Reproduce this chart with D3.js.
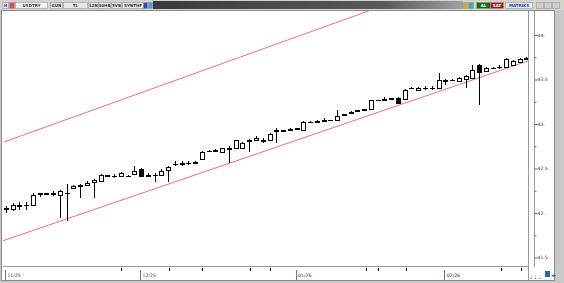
<!DOCTYPE html>
<html>
<head>
<meta charset="utf-8">
<script src="https://cdn.jsdelivr.net/npm/d3@7"></script>
<style>
  body { margin: 0; background: #c8c8c8; }
  svg { display: block; font-family: "DejaVu Sans", sans-serif; }
</style>
</head>
<body>
<svg id="chart"></svg>
<script>
// candles (USDTRY daily)
const opens  = [42.055,42.047,42.08,42.09,42.09,42.215,42.225,42.215,42.205,42.225,42.284,42.30,42.32,42.345,42.363,42.425,42.415,42.42,42.42,42.44,
                42.50,42.42,42.425,42.43,42.48,42.55,42.555,42.56,42.565,42.61,42.70,42.70,42.69,42.72,42.735,42.735,42.81,42.82,42.81,42.825,
                42.925,42.925,42.935,42.945,42.93,43.02,43.025,43.035,43.04,43.04,43.11,43.12,43.15,43.16,43.165,43.265,43.275,43.285,43.29,43.28,
                43.41,43.38,43.40,43.405,43.40,43.495,43.49,43.48,43.51,43.515,43.66,43.595,43.625,43.635,43.64,43.66,43.695,43.735]
const closes = [42.045,42.092,42.09,42.09,42.205,42.22,42.215,42.22,42.25,42.23,42.307,42.315,42.34,42.37,42.43,42.415,42.42,42.45,42.42,42.475,
                42.42,42.425,42.43,42.475,42.52,42.555,42.56,42.56,42.57,42.69,42.70,42.705,42.725,42.725,42.815,42.79,42.815,42.84,42.815,42.89,
                42.93,42.93,42.94,42.95,43.02,43.02,43.03,43.04,43.045,43.095,43.10,43.14,43.155,43.165,43.265,43.27,43.28,43.29,43.235,43.38,
                43.40,43.41,43.405,43.41,43.49,43.485,43.495,43.515,43.535,43.605,43.58,43.63,43.63,43.64,43.73,43.705,43.73,43.74]
const highs  = [42.08,42.11,42.12,42.12,42.22,42.225,42.23,42.25,42.26,42.33,42.32,42.33,42.36,42.385,42.44,42.43,42.44,42.46,42.43,42.53,
                42.51,42.45,42.45,42.49,42.53,42.58,42.58,42.585,42.58,42.70,42.71,42.715,42.735,42.75,42.825,42.80,42.83,42.86,42.84,42.90,
                42.96,42.935,42.96,42.955,43.03,43.03,43.05,43.065,43.05,43.155,43.115,43.15,43.16,43.17,43.275,43.275,43.30,43.295,43.30,43.39,
                43.415,43.42,43.43,43.43,43.57,43.50,43.50,43.525,43.545,43.66,43.67,43.64,43.64,43.66,43.74,43.715,43.74,43.75]
const lows   = [42.00,42.02,42.03,42.03,42.08,42.18,42.21,42.19,41.945,41.91,42.27,42.17,42.30,42.17,42.35,42.41,42.39,42.41,42.41,42.43,
                42.41,42.40,42.35,42.42,42.35,42.53,42.53,42.535,42.56,42.60,42.69,42.695,42.68,42.565,42.73,42.725,42.68,42.81,42.79,42.815,
                42.79,42.92,42.92,42.94,42.92,43.01,43.01,43.02,43.035,43.035,43.095,43.115,43.145,43.155,43.155,43.26,43.26,43.28,43.23,43.27,
                43.395,43.375,43.385,43.385,43.395,43.435,43.485,43.475,43.41,43.51,43.21,43.585,43.62,43.62,43.635,43.65,43.69,43.73]

// trend channel, [candle index, price] end points
const upperLine = [[-0.2, 42.80], [54, 44.28]]
const lowerLine = [[-0.4, 41.689], [77.3, 43.71]]

const priceTicks = [44, 43.5, 43, 42.5, 42, 41.5]
const priceLabels = ["44.", "43.5", "43.", "42.5", "42.", "41.5"]
const minorTicks = [43.75, 43.25, 42.75, 42.25, 41.75]

const monthStart = [0, 20, 43, 65]
const monthLabels = ["11/25", "12/25", "01/26", "02/26"]
const markIdx = [17, 24.2, 29, 36.1, 39.1, 53.3, 55.1, 59.2, 73.2, 76.2]

const W = 564, H = 283
const pLeft = 3, pRight = 528, pTop = 11, pBottom = 266
const axisX = 534

const svg = d3.select("#chart").attr("width", W).attr("height", H)

// frame
svg.append("rect").attr("width", W).attr("height", H).attr("fill", "#c8c8c8")
svg.append("rect").attr("x", 1.5).attr("y", 10.5).attr("width", 553).attr("height", 270)
    .attr("fill", "#fff").attr("stroke", "#8a8a8a")

const x = d3.scaleLinear().domain([0, 77]).range([5.9, 526.4])
const y = d3.scaleLinear().domain([41.5, 44]).range([257.5, 35])
const px = v => Math.round(v) + 0.5

// toolbar
const tb = svg.append("g")
tb.append("rect").attr("x", 0).attr("y", 0).attr("width", W).attr("height", 10).attr("fill", "#d6d3ce")
const grad = svg.append("defs").append("linearGradient").attr("id", "dark")
grad.append("stop").attr("offset", "0").attr("stop-color", "#3a3a3a")
grad.append("stop").attr("offset", "0.75").attr("stop-color", "#5a5a5a")
grad.append("stop").attr("offset", "1").attr("stop-color", "#a0a0a0")
tb.append("rect").attr("x", 153).attr("y", 1).attr("width", 310).attr("height", 8).attr("fill", "url(#dark)")

const boxes = [
  {x: 2, w: 6, t: "H", fill: "#dfe6f5", col: "#2040a0"},
  {x: 9, w: 5, t: "", fill: "#e05050", col: "#fff"},
  {x: 15, w: 32, t: "USDTRY", fill: "#f4f4f4", col: "#333"},
  {x: 50, w: 12, t: "GUN", fill: "#e8e8e8", col: "#333"},
  {x: 63, w: 24, t: "TL", fill: "#e8e8e8", col: "#333"},
  {x: 88, w: 10, t: "12N", fill: "#e8e8e8", col: "#333"},
  {x: 98, w: 12, t: "30HB", fill: "#e8e8e8", col: "#333"},
  {x: 111, w: 10, t: "5VB", fill: "#e8e8e8", col: "#333"},
  {x: 122, w: 21, t: "SYNTHF", fill: "#e8e8e8", col: "#333"},
  {x: 143, w: 4, t: "", fill: "#3050b0", col: "#fff"},
  {x: 148, w: 4, t: "", fill: "#40a0e0", col: "#fff"},
  {x: 463, w: 4, t: "", fill: "#f0a020", col: "#fff"},
  {x: 468, w: 5, t: "", fill: "#40b0a0", col: "#fff"},
  {x: 476, w: 14, t: "AL", fill: "#107010", col: "#fff"},
  {x: 490, w: 13, t: "SAT", fill: "#a01818", col: "#fff"},
  {x: 505, w: 27, t: "MATRIKS", fill: "#e4e8f0", col: "#2040a0"},
  {x: 536, w: 7, t: "", fill: "#d0d0d0", col: "#333"},
  {x: 544, w: 7, t: "", fill: "#d0d0d0", col: "#333"},
  {x: 552, w: 7, t: "", fill: "#d0d0d0", col: "#333"}
]
const bg = tb.selectAll("g.btn").data(boxes).join("g").attr("class", "btn")
bg.append("rect").attr("x", d => d.x + 0.5).attr("y", 2.5).attr("width", d => d.w).attr("height", 6)
    .attr("fill", d => d.fill).attr("stroke", "#9a9a9a").attr("stroke-width", 0.6)
bg.append("text").attr("x", d => d.x + d.w / 2 + 0.5).attr("y", 7.3).attr("text-anchor", "middle")
    .attr("font-size", 4).attr("font-weight", "bold").attr("fill", d => d.col).text(d => d.t)

// plot clip
svg.append("defs").append("clipPath").attr("id", "clip")
    .append("rect").attr("x", pLeft).attr("y", pTop).attr("width", pRight - pLeft).attr("height", pBottom - pTop)
const plot = svg.append("g").attr("clip-path", "url(#clip)")

// channel
const line = d3.line().x(d => x(d[0])).y(d => y(d[1]))
plot.selectAll("path.chan").data([upperLine, lowerLine]).join("path").attr("class", "chan")
    .attr("d", line).attr("fill", "none").attr("stroke", "#f07070").attr("stroke-width", 1)

// candles
const candles = opens.map((o, i) => ({i, o, c: closes[i], h: highs[i], l: lows[i]}))
const cg = plot.selectAll("g.candle").data(candles).join("g").attr("class", "candle")
cg.append("line")
    .attr("x1", d => px(x(d.i))).attr("x2", d => px(x(d.i)))
    .attr("y1", d => Math.round(y(d.h))).attr("y2", d => Math.round(y(d.l)))
    .attr("stroke", "#000").attr("stroke-width", 1)
cg.append("rect")
    .attr("x", d => Math.round(x(d.i)) - 1.5)
    .attr("y", d => Math.round(y(Math.max(d.o, d.c))) + 0.5)
    .attr("width", 4)
    .attr("height", d => Math.max(0.01, Math.round(y(Math.min(d.o, d.c))) - Math.round(y(Math.max(d.o, d.c)))))
    .attr("fill", d => d.c >= d.o ? "#fff" : "#000")
    .attr("stroke", "#000").attr("stroke-width", 1)

// right axis
svg.append("line").attr("x1", pRight + 0.5).attr("x2", pRight + 0.5).attr("y1", pTop).attr("y2", 280)
    .attr("stroke", "#999")
const yAxis = svg.append("g").attr("transform", `translate(${axisX + 0.5},0)`)
    .call(d3.axisRight(y).tickValues(priceTicks).tickSize(3).tickFormat((d, i) => priceLabels[i]))
yAxis.select(".domain").attr("d", `M0,${pTop}V${pBottom + 1}`).attr("stroke", "#999")
yAxis.selectAll(".tick line").attr("stroke", "#666")
yAxis.selectAll(".tick text").attr("x", 3).attr("font-size", 4.6).attr("fill", "#333")
    .attr("font-family", "DejaVu Sans, sans-serif")
svg.append("g").attr("transform", `translate(${axisX + 0.5},0)`)
    .call(d3.axisRight(y).tickValues(minorTicks).tickSize(2).tickFormat(""))
    .call(g => g.select(".domain").remove())
    .selectAll("line").attr("stroke", "#666")

// date axis
svg.append("line").attr("x1", pLeft).attr("x2", pRight).attr("y1", pBottom + 0.5).attr("y2", pBottom + 0.5)
    .attr("stroke", "#999")
svg.selectAll("line.mark").data(markIdx).join("line").attr("class", "mark")
    .attr("x1", d => px(x(d))).attr("x2", d => px(x(d))).attr("y1", 268).attr("y2", 271)
    .attr("stroke", "#000").attr("stroke-width", 1)
const mg = svg.selectAll("g.month").data(monthStart).join("g").attr("class", "month")
mg.append("line")
    .attr("x1", d => px(Math.max(x(d) - 1, 4))).attr("x2", d => px(Math.max(x(d) - 1, 4)))
    .attr("y1", 270).attr("y2", 280).attr("stroke", "#777")
mg.append("text").attr("x", d => Math.max(x(d) - 1, 4) + 2.5).attr("y", 276.5)
    .attr("font-size", 4.6).attr("fill", "#333").text((d, i) => monthLabels[i])

// bottom right icons
svg.append("text").attr("x", 529).attr("y", 279).attr("font-size", 5).attr("fill", "#555").text("⊥⊥⊥")
svg.append("rect").attr("x", 545).attr("y", 271).attr("width", 5).attr("height", 6).attr("fill", "#3060c0")
svg.append("text").attr("x", 551).attr("y", 277).attr("font-size", 5).attr("fill", "#3060c0").text("◂▸")
</script>
</body>
</html>
